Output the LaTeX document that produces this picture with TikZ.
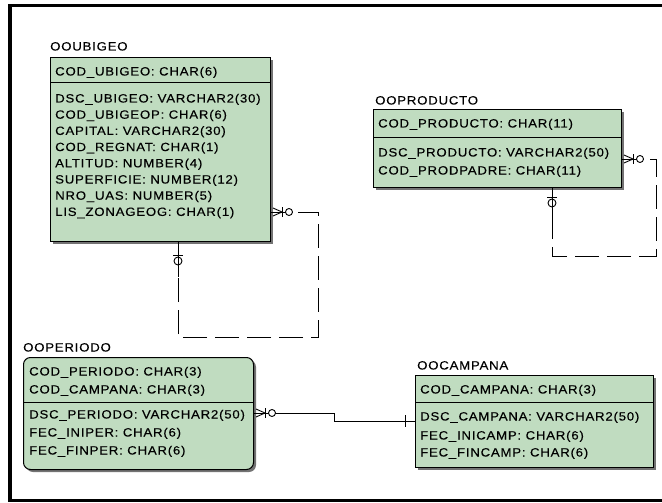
\documentclass[tikz,border=0pt]{standalone}
\usepackage{fontspec}
\newfontfamily\erfont[FakeStretch=1.1,LetterSpace=6.5,FakeBold=0.2]{Liberation Sans}
\usetikzlibrary{calc}
\definecolor{ergreen}{RGB}{192,220,192}
\definecolor{ershadow}{RGB}{115,115,115}
\begin{document}
\begin{tikzpicture}[x=1pt,y=-1pt,
  tbl/.style={draw=black, line width=1pt, fill=ergreen, inner sep=0pt, anchor=north west, rectangle},
  shadowbox/.style={fill=ershadow, draw=none},
  row/.style={anchor=base west, inner sep=0pt, font=\erfont\fontsize{12}{14}\selectfont},
  ttl/.style={anchor=base west, inner sep=0pt, font=\erfont\fontsize{12}{14}\selectfont},
  rel/.style={line width=0.9pt, dash pattern=on 24pt off 8pt},
  sym/.style={line width=0.9pt},
  sep/.style={line width=1pt}
]
\useasboundingbox (0,0) rectangle (662,503);
\fill[white] (0,0) rectangle (662,503);
% frame
\draw[line width=3.5pt] (670,5.5) -- (10,5.5) -- (10,500.5) -- (670,500.5);

% ---------------- OOUBIGEO
\node[ttl] (ubigeoT) at (50,50.5) {OOUBIGEO};
\fill[shadowbox] (53,60) rectangle (273,244);
\node[tbl, minimum width=220pt, minimum height=184pt] (ubigeo) at (50,57) {};
\draw[sep] ($(ubigeo.north west)+(0,26)$) -- ($(ubigeo.north east)+(0,26)$);
\node[row] (u0) at (55,75.5) {COD\_UBIGEO: CHAR(6)};
\node[row] (u1) at (55,102.5) {DSC\_UBIGEO: VARCHAR2(30)};
\node[row] (u2) at (55,118.7) {COD\_UBIGEOP: CHAR(6)};
\node[row] (u3) at (55,134.9) {CAPITAL: VARCHAR2(30)};
\node[row] (u4) at (55,151.1) {COD\_REGNAT: CHAR(1)};
\node[row] (u5) at (55,167.3) {ALTITUD: NUMBER(4)};
\node[row] (u6) at (55,183.5) {SUPERFICIE: NUMBER(12)};
\node[row] (u7) at (55,199.7) {NRO\_UAS: NUMBER(5)};
\node[row] (u8) at (55,215.9) {LIS\_ZONAGEOG: CHAR(1)};

% ---------------- OOPRODUCTO
\node[ttl] (productoT) at (375,104.5) {OOPRODUCTO};
\fill[shadowbox] (376,112) rectangle (624,190);
\node[tbl, minimum width=248pt, minimum height=78pt] (producto) at (373,109) {};
\draw[sep] ($(producto.north west)+(0,28)$) -- ($(producto.north east)+(0,28)$);
\node[row] (p0) at (378,127.5) {COD\_PRODUCTO: CHAR(11)};
\node[row] (p1) at (378,156.5) {DSC\_PRODUCTO: VARCHAR2(50)};
\node[row] (p2) at (378,174.5) {COD\_PRODPADRE: CHAR(11)};

% ---------------- OOPERIODO
\node[ttl] (periodoT) at (23,351.5) {OOPERIODO};
\fill[shadowbox, rounded corners=7pt] (26,360) rectangle (256,472);
\node[tbl, rounded corners=7pt, minimum width=230pt, minimum height=112pt] (periodo) at (23,357) {};
\draw[sep] ($(periodo.north west)+(0,45)$) -- ($(periodo.north east)+(0,45)$);
\node[row] (e0) at (29,375.5) {COD\_PERIODO: CHAR(3)};
\node[row] (e1) at (29,393.5) {COD\_CAMPANA: CHAR(3)};
\node[row] (e2) at (29,418.5) {DSC\_PERIODO: VARCHAR2(50)};
\node[row] (e3) at (29,436.5) {FEC\_INIPER: CHAR(6)};
\node[row] (e4) at (29,454.5) {FEC\_FINPER: CHAR(6)};

% ---------------- OOCAMPANA
\node[ttl] (campanaT) at (417,369.5) {OOCAMPANA};
\fill[shadowbox] (418,378) rectangle (656,470);
\node[tbl, minimum width=238pt, minimum height=92pt] (campana) at (415,375) {};
\draw[sep] ($(campana.north west)+(0,27)$) -- ($(campana.north east)+(0,27)$);
\node[row] (c0) at (420,393.5) {COD\_CAMPANA: CHAR(3)};
\node[row] (c1) at (420,420.5) {DSC\_CAMPANA: VARCHAR2(50)};
\node[row] (c2) at (420,439.5) {FEC\_INICAMP: CHAR(6)};
\node[row] (c3) at (420,456.5) {FEC\_FINCAMP: CHAR(6)};

% ---------------- OOUBIGEO self relationship
\coordinate (ua) at ($(ubigeo.north east)+(0,155)$);
\coordinate (ub) at ($(ubigeo.south west)+(128,0)$);
\draw[sym] (ua) -- ++(22,0);
\draw[sym] ($(ua)+(2,-4)$) -- ($(ua)+(11,0)$) -- ($(ua)+(2,4)$);
\draw[sym] ($(ua)+(11,-5)$) -- ++(0,10);
\draw[sym, fill=white] ($(ua)+(18,0)$) circle (3.5);
\draw[rel] ($(ua)+(27,0)$) -| ($(ub)+(140,95)$) -| ($(ub)+(0,35)$);
\draw[sym] (ub) -- ++(0,35);
\draw[sym] ($(ub)+(-5,13)$) -- ++(10,0);
\draw[sym] ($(ub)+(0,19)$) circle (4);

% ---------------- OOPRODUCTO self relationship
\coordinate (pa) at ($(producto.north east)+(0,50)$);
\coordinate (pb) at ($(producto.south west)+(179,0)$);
\draw[sym] (pa) -- ++(22,0);
\draw[sym] ($(pa)+(2,-4)$) -- ($(pa)+(11,0)$) -- ($(pa)+(2,4)$);
\draw[sym] ($(pa)+(11,-5)$) -- ++(0,10);
\draw[sym, fill=white] ($(pa)+(18,0)$) circle (3.5);
\draw[rel] ($(pa)+(28,0)$) -| ($(pb)+(104,68)$) -| ($(pb)+(0,27)$);
\draw[sym] (pb) -- ++(0,27);
\draw[sym] ($(pb)+(-5,9)$) -- ++(10,0);
\draw[sym] ($(pb)+(0,15)$) circle (4);

% ---------------- OOPERIODO - OOCAMPANA
\coordinate (ea) at ($(periodo.north east)+(0,56)$);
\coordinate (ca) at ($(campana.north west)+(0,46)$);
\draw[sym] (ea) -- ($(ea)+(80,0)$) -- ($(ea)+(80,8)$) -- (ca);
\draw[sym] ($(ea)+(2,-4)$) -- ($(ea)+(11,0)$) -- ($(ea)+(2,4)$);
\draw[sym] ($(ea)+(11,-5)$) -- ++(0,10);
\draw[sym, fill=white] ($(ea)+(18,0)$) circle (3.5);
\draw[sym] ($(ca)+(-10,-6)$) -- ++(0,12);
\end{tikzpicture}
\end{document}
